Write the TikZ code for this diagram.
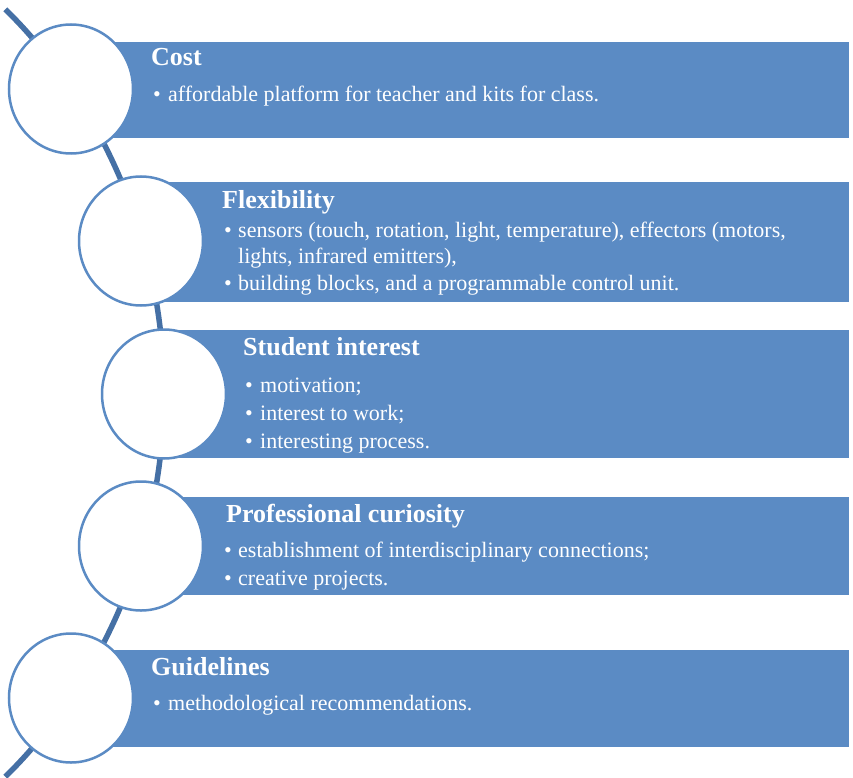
\documentclass[tikz,border=0pt]{standalone}
\usepackage{fontspec}
\setmainfont{Liberation Serif}
\usetikzlibrary{shapes.geometric}

\definecolor{boxblue}{HTML}{5B8BC4}
\definecolor{spineblue}{HTML}{4570A5}

\begin{document}
\begin{tikzpicture}
[x=1pt,y=-1pt,
 band/.style={fill=boxblue},
 ring/.style={ellipse,draw=boxblue,line width=2.5pt,fill=white,
   minimum width=124pt,minimum height=129pt,inner sep=0pt},
 head/.style={anchor=base west,inner sep=0pt,text=white,
   font=\fontsize{26}{30}\selectfont\bfseries},
 items/.style={anchor=base west,inner sep=0pt,text=white,
   font=\fontsize{22}{#1}\selectfont}]
  \useasboundingbox (0,0) rectangle (853,778);
  \clip (0,0) rectangle (853,778);

  % spine behind the rings
  \coordinate (spine) at (-345,393);
  \draw[spineblue,line width=5.5pt] (spine) ++(-46.5:509 and 529)
    arc[start angle=-46.5,end angle=46.5,x radius=509,y radius=529];

  % bands
  \fill[band] (71,42) rectangle (849,138);
  \fill[band] (141,182) rectangle (849,302);
  \fill[band] (164,330) rectangle (849,458);
  \fill[band] (141,497) rectangle (849,595);
  \fill[band] (71,650) rectangle (849,747);

  % rings
  \node[ring] (c1) at (71,89) {};
  \node[ring] (c2) at (141,241) {};
  \node[ring] (c3) at (164,394) {};
  \node[ring] (c4) at (141,546) {};
  \node[ring] (c5) at (71,698) {};

  % texts
  \node[head] (cost) at (151,66) {Cost};
  \node[items=26] (costtxt) at (153,102) {\begin{tabular}[t]{@{}p{15pt}@{}l@{}}
    \textbullet & affordable platform for teacher and kits for class.
  \end{tabular}};

  \node[head] (flex) at (222,208) {Flexibility};
  \node[items=26.5] (flextxt) at (224,237) {\begin{tabular}[t]{@{}p{14pt}@{}l@{}}
    \textbullet & sensors (touch, rotation, light, temperature), effectors (motors,\\
     & lights, infrared emitters),\\
    \textbullet & building blocks, and a programmable control unit.
  \end{tabular}};

  \node[head] (stud) at (243,355) {Student interest};
  \node[items=28] (studtxt) at (245,392) {\begin{tabular}[t]{@{}p{15pt}@{}l@{}}
    \textbullet & motivation;\\
    \textbullet & interest to work;\\
    \textbullet & interesting process.
  \end{tabular}};

  \node[head] (prof) at (226,522) {Professional curiosity};
  \node[items=28] (proftxt) at (224,557) {\begin{tabular}[t]{@{}p{14pt}@{}l@{}}
    \textbullet & establishment of interdisciplinary connections;\\
    \textbullet & creative projects.
  \end{tabular}};

  \node[head] (guide) at (151,675) {Guidelines};
  \node[items=26] (guidetxt) at (153,710) {\begin{tabular}[t]{@{}p{15pt}@{}l@{}}
    \textbullet & methodological recommendations.
  \end{tabular}};
\end{tikzpicture}
\end{document}
